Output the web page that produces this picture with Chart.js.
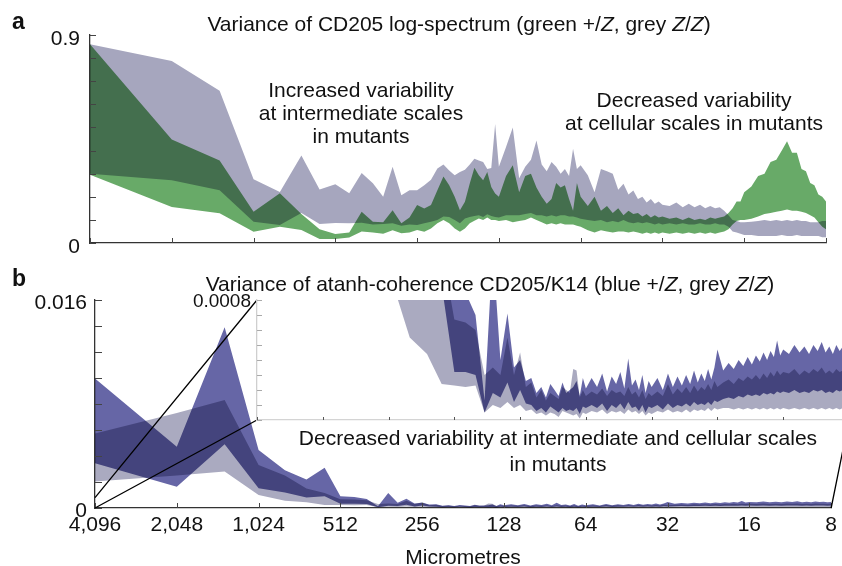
<!DOCTYPE html>
<html lang="en">
<head>
<meta charset="utf-8">
<title>Variance spectra</title>
<script src="https://cdn.jsdelivr.net/npm/chart.js"></script>
<style>
  html, body { margin: 0; padding: 0; background: #fff; }
  body { width: 842px; height: 566px; position: relative; overflow: hidden;
         font-family: "Liberation Sans", Arial, Helvetica, sans-serif; color: #111; }
  canvas { position: absolute; }
  #panelA { left: 0; top: 0; }
  #panelB { left: 0; top: 260px; }
  #inset { left: 180px; top: 280px; }
  .t { position: absolute; font-size: 21px; line-height: 23px; white-space: nowrap;
       text-align: center; transform: translateX(-50%); }
  .letter { position: absolute; font-size: 23px; font-weight: bold; line-height: 1; }
</style>
</head>
<body>
<canvas id="panelA" width="842" height="270"></canvas>
<canvas id="panelB" width="842" height="311"></canvas>
<canvas id="inset" width="720" height="160"></canvas>

<div class="letter" style="left:12px; top:10px;">a</div>
<div class="letter" style="left:12px; top:267px;">b</div>
<div class="t" style="left:459px; top:12px;">Variance of CD205 log-spectrum (green +/<i>Z</i>, grey <i>Z</i>/<i>Z</i>)</div>
<div class="t" style="left:361px; top:78px;">Increased variability<br>at intermediate scales<br>in mutants</div>
<div class="t" style="left:694px; top:88px;">Decreased variability<br>at cellular scales in mutants</div>
<div class="t" style="left:490px; top:272px;">Variance of atanh-coherence CD205/K14 (blue +/<i>Z</i>, grey <i>Z</i>/<i>Z</i>)</div>
<div class="t" style="left:558px; top:425px; line-height:26px;">Decreased variability at intermediate and cellular scales<br>in mutants</div>

<script>
// Spatial frequency index (waves across the 4,096 µm field)
const harmonics = [
  1, 2, 3, 4, 5, 6, 7, 8, 9, 10, 11, 12, 13, 14, 15, 16,
  17, 18, 19, 20, 21, 22, 23, 24, 25, 26, 27, 28, 29, 30, 31, 32,
  34, 36, 38, 40, 42, 44, 46, 48, 50, 52, 54, 56, 58, 60, 62, 64,
  68, 72, 76, 80, 84, 88, 92, 96, 100, 104, 108, 112, 116, 120, 124, 128,
  136, 144, 152, 160, 168, 176, 184, 192, 200, 208, 216, 224, 232, 240, 248, 256,
  272, 288, 304, 320, 336, 352, 368, 384, 400, 416, 432, 448, 464, 480, 496, 512
];

// x axis ticks (harmonic) and their labels in micrometres
const xTickHarmonics = [1, 2, 4, 8, 16, 32, 64, 128, 256, 512];
const xTickLabels = ['4,096', '2,048', '1,024', '512', '256', '128', '64', '32', '16', '8'];

// Panel a: variance of CD205 log-spectrum
const greyHighA = [
  .86, .788, .659, .276, .221, .379, .232, .254, .215, .303, .258, .20, .33, .207, .228, .228,
  .25, .274, .322, .34, .314, .293, .307, .317, .34, .365, .357, .35, .32, .325, .515, .33,
  .415, .50, .28, .33, .36, .443, .34, .31, .35, .33, .30, .32, .29, .408, .32, .336,
  .293, .22, .32, .31, .30, .23, .256, .21, .227, .19, .20, .175, .19, .17, .18, .165,
  .16, .175, .155, .17, .155, .165, .15, .16, .15, .155, .14, .12, .10, .095, .09, .09,
  .092, .095, .10, .095, .10, .095, .10, .095, .10, .095, .095, .09, .09, .09, .095, .095
];
const greyLowA = [
  .30, .271, .228, .092, .078, .13, .082, .087, .085, .088, .08, .082, .085, .075, .08, .078,
  .085, .092, .099, .115, .113, .099, .085, .106, .113, .117, .12, .113, .124, .117, .113, .11,
  .12, .12, .12, .125, .13, .12, .12, .115, .12, .115, .12, .12, .115, .115, .11, .105,
  .10, .095, .10, .09, .095, .09, .10, .09, .085, .09, .085, .09, .085, .08, .085, .08,
  .085, .08, .085, .08, .08, .085, .08, .08, .085, .08, .08, .07, .05, .045, .04, .035,
  .035, .03, .03, .03, .03, .035, .03, .03, .035, .03, .03, .03, .03, .03, .025, .025
];
const greenHighA = [
  .86, .448, .357, .135, .215, .125, .06, .039, .045, .135, .092, .09, .142, .085, .11, .164,
  .149, .164, .228, .288, .25, .20, .142, .178, .257, .326, .293, .271, .307, .242, .214, .20,
  .29, .336, .22, .29, .30, .24, .20, .17, .19, .26, .24, .25, .19, .14, .26, .20,
  .16, .20, .14, .16, .13, .15, .12, .14, .125, .13, .115, .125, .11, .12, .11, .115,
  .105, .11, .10, .11, .10, .105, .10, .11, .105, .11, .115, .13, .15, .18, .18, .22,
  .245, .29, .30, .35, .36, .40, .44, .39, .39, .32, .31, .26, .25, .21, .20, .18
];
const greenLowA = [
  .295, .156, .129, .049, .07, .056, .017, .017, .024, .05, .045, .04, .055, .042, .045, .056,
  .049, .063, .085, .10, .085, .063, .049, .063, .085, .096, .106, .099, .11, .099, .10, .095,
  .10, .09, .095, .10, .11, .10, .09, .08, .085, .08, .085, .08, .08, .08, .075, .07,
  .055, .045, .055, .05, .045, .05, .05, .045, .05, .045, .04, .045, .04, .045, .04, .045,
  .04, .045, .04, .045, .04, .045, .04, .045, .04, .045, .05, .06, .08, .095, .10, .10,
  .105, .115, .125, .13, .135, .14, .145, .14, .14, .135, .13, .12, .11, .09, .07, .06
];
const yTicksA = [0, .1, .2, .3, .4, .5, .6, .7, .8, .9];
const yTickLabelsA = ['0', '', '', '', '', '', '', '', '', '0.9'];

// Panel b: variance of atanh-coherence CD205/K14
const blueHighB = [
  .00997, .00472, .0139, .00446, .0029, .0022, .0031, .0009, .00085, .0007, .00013, .00115, .0004, .00071, .00035, .0004,
  .00026, .00028, .00018, .00022, .00015, .00024, .0002, .00016, .00025, .00018, .0002, .00022, .00026, .00016, .00028, .00021,
  .00028, .00022, .00031, .00019, .00029, .00024, .00032, .00021, .00041, .00023, .00027, .0002, .0003, .00018, .00026, .00022,
  .00028, .0002, .00031, .00022, .00029, .00023, .0003, .00024, .00033, .00025, .00031, .00026, .00034, .00027, .00035, .00047,
  .00033, .00038, .00034, .0004, .00036, .00042, .00037, .00043, .00039, .00045, .0004, .00046, .00042, .00053, .00043, .00047,
  .00044, .0005, .00045, .00049, .00044, .0005, .00046, .00052, .00045, .00049, .00044, .0005, .00046, .00049, .00045, .00047
];
const blueLowB = [
  .00344, .00164, .0049, .00151, .0012, .0008, .0009, .00032, .00032, .0003, .00005, .00018, .00015, .00025, .00012, .0002,
  .00011, .0001, .00006, .00008, .00005, .00009, .00007, .00005, .00008, .00006, .00007, .00006, .00008, .00004, .00009, .00008,
  .0001, .00008, .00011, .00006, .0001, .00008, .00011, .00007, .00012, .00008, .00009, .00006, .0001, .00005, .00009, .00008,
  .0001, .00007, .00011, .00008, .0001, .00009, .00011, .00009, .00012, .0001, .00011, .0001, .00012, .0001, .00013, .00012,
  .00014, .00015, .00014, .00016, .00015, .00017, .00016, .00017, .00016, .00018, .00017, .00018, .00017, .00019, .00018, .00019,
  .00018, .0002, .00018, .00019, .00018, .0002, .00019, .0002, .00018, .00019, .00018, .0002, .00019, .0002, .00018, .00019
];
const greyHighB = [
  .00574, .0073, .0083, .0033, .0025, .0015, .00115, .00067, .00065, .0006, .0003, .00035, .0003, .00055, .0003, .00045,
  .00022, .00025, .00015, .0002, .00013, .00018, .00016, .00014, .00022, .0002, .00018, .00034, .00033, .00015, .0002, .00016,
  .00019, .00017, .00021, .00016, .0002, .00018, .00019, .00016, .00022, .00017, .00019, .00015, .0002, .00014, .00018, .00016,
  .00019, .00016, .00024, .00017, .00021, .00018, .00022, .00018, .00023, .00019, .00022, .0002, .00024, .0002, .00026, .00022,
  .00025, .00027, .00024, .00028, .00026, .00029, .00027, .0003, .00027, .00031, .00028, .00032, .00029, .00033, .0003, .00032,
  .00031, .00034, .0003, .00033, .00031, .00034, .00032, .00035, .00031, .00033, .00031, .00034, .00032, .00033, .00031, .00032
];
const greyLowB = [
  .00203, .0025, .0028, .001, .00055, .00044, .00024, .00023, .00022, .00023, .00005, .0001, .00008, .00012, .00008, .0001,
  .00006, .00007, .00004, .00005, .00003, .00005, .00004, .00002, .00006, .00005, .00004, .00003, .00004, .00001, .00005, .00004,
  .00006, .00005, .00007, .00004, .00006, .00005, .00006, .00004, .00007, .00005, .00006, .00004, .00006, .00003, .00005, .00004,
  .00006, .00005, .00007, .00005, .00006, .00005, .00007, .00005, .00007, .00006, .00007, .00006, .00008, .00006, .00008, .00007,
  .00008, .00008, .00007, .00008, .00007, .00008, .00007, .00008, .00007, .00008, .00007, .00008, .00007, .00008, .00007, .00008,
  .00007, .00008, .00007, .00008, .00007, .00008, .00007, .00008, .00007, .00008, .00007, .00008, .00007, .00008, .00007, .00008
];
const yTicksB = [0, .002, .004, .006, .008, .010, .012, .014, .016];
const yTickLabelsB = ['0', '', '', '', '', '', '', '', '0.016'];
const yTicksInset = [0, .0001, .0002, .0003, .0004, .0005, .0006, .0007, .0008];
const yTickLabelsInset = ['', '', '', '', '', '', '', '', '0.0008'];

// colours
const GREY_A = 'rgb(166,166,190)';
const GREEN_A = 'rgb(104,170,104)';
const GREY_B = 'rgb(170,170,192)';
const BLUE_B = 'rgb(102,102,166)';

// page layout (px)
const PANEL_B_TOP = 260;
const INSET = { left: 257, top: 300, right: 849, bottom: 420 };
const INSET_CANVAS = { left: 180, top: 280, width: 720, height: 160 };

Chart.defaults.font.family = '"Liberation Sans", Arial, Helvetica, sans-serif';
Chart.defaults.font.size = 21;
Chart.defaults.color = '#111';

function band(low, high, color) {
  const pts = arr => harmonics.map((k, i) => ({ x: k, y: arr[i] }));
  const line = { borderWidth: 0, borderColor: 'rgba(0,0,0,0)', pointRadius: 0, tension: 0 };
  return [
    { ...line, data: pts(low), fill: false },
    { ...line, data: pts(high), fill: '-1', backgroundColor: color }
  ];
}

// overlapping bands darken each other like ink
const multiplyBands = {
  id: 'multiplyBands',
  beforeDatasetsDraw(chart) { chart.ctx.save(); chart.ctx.globalCompositeOperation = 'multiply'; },
  afterDatasetsDraw(chart) { chart.ctx.restore(); }
};

// tick marks pointing into the plot
function innerTicks(yLen, xLen, yColor, xColor) {
  return {
    id: 'innerTicks',
    afterDraw(chart) {
      const { ctx, scales: { x, y } } = chart;
      ctx.save();
      ctx.lineWidth = 1;
      ctx.strokeStyle = yColor;
      ctx.beginPath();
      y.ticks.forEach(t => {
        const py = Math.round(y.getPixelForValue(t.value)) + 0.5;
        ctx.moveTo(x.left, py); ctx.lineTo(x.left + yLen, py);
      });
      ctx.stroke();
      ctx.strokeStyle = xColor;
      ctx.beginPath();
      x.ticks.forEach(t => {
        const px = Math.round(x.getPixelForValue(t.value)) + 0.5;
        ctx.moveTo(px, y.bottom); ctx.lineTo(px, y.bottom - xLen);
      });
      ctx.stroke();
      ctx.restore();
    }
  };
}

function xScale(showLabels, height, borderColor) {
  return {
    type: 'logarithmic', min: 1, max: 512,
    afterBuildTicks: s => { s.ticks = xTickHarmonics.map(v => ({ value: v })); },
    afterFit: s => { s.height = height; },
    grid: { display: false, drawTicks: false },
    border: { display: true, color: borderColor, width: 1.3 },
    ticks: { display: showLabels, autoSkip: false, maxRotation: 0, padding: 5,
             callback: (v, i) => xTickLabels[i] }
  };
}

function yScale(max, ticks, labels, width, pad, offset, borderColor, fontSize) {
  return {
    min: 0, max: max,
    afterBuildTicks: s => { s.ticks = ticks.map(v => ({ value: v })); },
    afterFit: s => { s.width = width; },
    grid: { display: false, drawTicks: false },
    border: { display: true, color: borderColor, width: 1.3 },
    ticks: { padding: pad, labelOffset: offset, autoSkip: false, font: { size: fontSize },
             callback: (v, i) => labels[i] }
  };
}

const common = {
  responsive: false,
  animation: false,
  events: [],
  plugins: { legend: { display: false }, tooltip: { enabled: false } }
};

// panel a
new Chart(document.getElementById('panelA'), {
  type: 'line',
  data: { datasets: [...band(greyLowA, greyHighA, GREY_A), ...band(greenLowA, greenHighA, GREEN_A)] },
  options: {
    ...common,
    layout: { padding: { top: 35, right: 16, left: 0, bottom: 0 } },
    scales: {
      x: xScale(false, 27, '#333'),
      y: yScale(0.9, yTicksA, yTickLabelsA, 90, 10, 4, '#333', 21)
    }
  },
  plugins: [multiplyBands, innerTicks(6, 5, '#444', '#444')]
});

// connector lines from the zoomed strip to the inset
const connectors = {
  id: 'connectors',
  afterDraw(chart) {
    const { ctx, scales: { x, y } } = chart;
    const top = INSET.top - PANEL_B_TOP, bottom = INSET.bottom - PANEL_B_TOP;
    ctx.save();
    ctx.strokeStyle = '#000';
    ctx.lineWidth = 1.3;
    ctx.beginPath();
    ctx.moveTo(x.getPixelForValue(1), y.getPixelForValue(yTicksInset[yTicksInset.length - 1]));
    ctx.lineTo(INSET.left, top);
    ctx.moveTo(x.getPixelForValue(1), y.getPixelForValue(0));
    ctx.lineTo(INSET.left, bottom);
    ctx.moveTo(x.getPixelForValue(512), y.getPixelForValue(0));
    ctx.lineTo(INSET.right, bottom);
    ctx.stroke();
    ctx.restore();
  }
};

// panel b, main axes
const scalesB = {
  x: xScale(true, 63, '#333'),
  y: yScale(0.016, yTicksB, yTickLabelsB, 95, 8, 3, '#333', 21)
};
scalesB.x.title = { display: true, text: 'Micrometres', padding: { top: 0, bottom: 0 } };

new Chart(document.getElementById('panelB'), {
  type: 'line',
  data: { datasets: [...band(greyLowB, greyHighB, GREY_B), ...band(blueLowB, blueHighB, BLUE_B)] },
  options: {
    ...common,
    layout: { padding: { top: INSET.top - PANEL_B_TOP, right: 10, left: 0, bottom: 0 } },
    scales: scalesB
  },
  plugins: [multiplyBands, innerTicks(7, 5, '#444', '#444'), connectors]
});

// panel b, inset (zoom on 0–0.0008)
const insetBackground = {
  id: 'insetBackground',
  beforeDraw(chart) {
    const { ctx, chartArea: a } = chart;
    ctx.save();
    ctx.fillStyle = '#fff';
    ctx.fillRect(a.left, a.top, a.right - a.left, a.bottom - a.top);
    ctx.restore();
  }
};

new Chart(document.getElementById('inset'), {
  type: 'line',
  data: { datasets: [...band(greyLowB, greyHighB, GREY_B), ...band(blueLowB, blueHighB, BLUE_B)] },
  options: {
    ...common,
    layout: { padding: {
      top: INSET.top - INSET_CANVAS.top,
      right: INSET_CANVAS.left + INSET_CANVAS.width - INSET.right,
      left: 0, bottom: 0 } },
    scales: {
      x: xScale(false, INSET_CANVAS.top + INSET_CANVAS.height - INSET.bottom, '#d4d4d4'),
      y: yScale(0.0008, yTicksInset, yTickLabelsInset, INSET.left - INSET_CANVAS.left, 6, 2, '#cfcfcf', 19)
    }
  },
  plugins: [insetBackground, multiplyBands, innerTicks(5, 3, '#aaa', '#555')]
});
</script>
</body>
</html>
